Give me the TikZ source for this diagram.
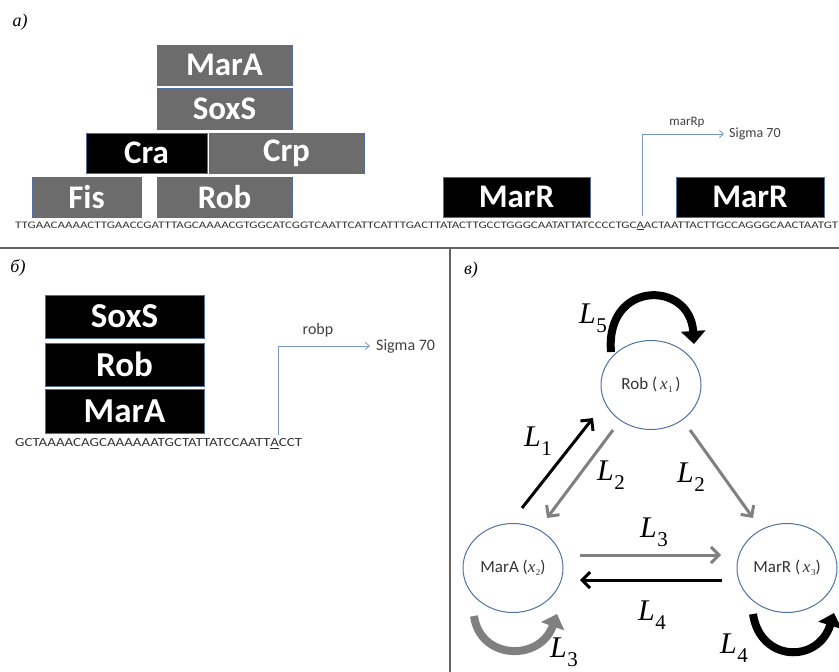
\documentclass[tikz,border=0pt]{standalone}
\usepackage{graphicx}
\usepackage{fontspec}
\setmainfont{Carlito}
\newfontfamily\serif{Liberation Serif}
\usetikzlibrary{arrows.meta,shapes.geometric}
\definecolor{boxgray}{RGB}{108,108,108}
\definecolor{boxedge}{RGB}{80,110,160}
\definecolor{arrgray}{RGB}{128,128,128}
\definecolor{circedge}{RGB}{79,113,163}
\definecolor{promo}{RGB}{120,150,200}
\definecolor{seqcol}{RGB}{50,50,50}
\definecolor{divcol}{RGB}{100,100,100}
\newcommand\Lab[1]{{\serif\itshape\fontsize{30}{30}\selectfont L}\kern0.5pt\raisebox{-9pt}{\serif\fontsize{21}{21}\selectfont #1}}
\newcommand\xsub[1]{{\serif\itshape x}\kern0.5pt\raisebox{-2.5pt}{\serif\fontsize{9}{9}\selectfont #1}}
\begin{document}
\begin{tikzpicture}[x=1pt,y=-1pt,
  gbox/.style={draw=boxedge, line width=0.8pt, fill=boxgray, text=white,
    font=\fontsize{33}{33}\selectfont\bfseries, inner sep=0pt, outer sep=0pt},
  kbox/.style={gbox, fill=black},
  bbox/.style={kbox, font=\fontsize{35}{35}\selectfont\bfseries, minimum width=159pt},
  promline/.style={draw=promo, line width=0.8pt, -{Straight Barb[length=4pt,width=7pt,line width=0.8pt]}},
  circ/.style={ellipse, draw=circedge, line width=1pt, minimum width=100pt, minimum height=89pt,
    inner sep=0pt, font=\fontsize{17}{17}\selectfont, text=black!80},
  garr/.style={draw=arrgray, line width=3pt, -{Straight Barb[length=8pt,width=16pt,line width=3pt]}},
  karr/.style={draw=black, line width=3pt, -{Straight Barb[length=8pt,width=16pt,line width=3pt]}},
  gloop/.style={draw=arrgray, line width=8pt, -{Triangle[length=13pt,width=24pt]}},
  kloop/.style={draw=black, line width=8pt, -{Triangle[length=13pt,width=24pt]}},
  lab/.style={inner sep=0pt, anchor=base west},
  panel/.style={inner sep=0pt, font=\serif\itshape\fontsize{18}{18}\selectfont},
  seq/.style={inner sep=0pt, anchor=west, text=seqcol}
]
\useasboundingbox (0,0) rectangle (839,672);
% dividers
\coordinate (dl) at (0,248);
\coordinate (dr) at (839,248);
\coordinate (vt) at (450,248);
\coordinate (vb) at (450,672);
\draw[divcol, line width=1.5pt] (dl) -- (dr);
\draw[divcol, line width=1.5pt] (vt) -- (vb);

% panel labels
\node[panel] (pa) at (20,22) {а)};
\node[panel] (pb) at (18,268) {б)};
\node[panel] (pc) at (471,270) {в)};

% ---- panel a
\node[gbox, minimum width=135pt, minimum height=40pt] (amara) at (224.5,65) {MarA};
\node[gbox, minimum width=135pt, minimum height=41pt] (asoxs) at (224.5,108.5) {SoxS};
\node[kbox, minimum width=121pt, minimum height=40pt] (acra) at (146.5,153) {Cra};
\node[gbox, minimum width=155pt, minimum height=40pt] (acrp) at (286.5,153) {Crp};
\node[gbox, minimum width=109pt, minimum height=40pt] (afis) at (86.5,197) {Fis};
\node[gbox, minimum width=135pt, minimum height=40pt] (arob) at (224.5,197) {Rob};
\node[kbox, minimum width=147pt, minimum height=40pt] (amarr1) at (516.5,197) {MarR};
\node[kbox, minimum width=148pt, minimum height=40pt] (amarr2) at (750,197) {MarR};

\node[seq] (aseq) at (15,226) {\resizebox{823pt}{6.5pt}{TTGAACAAAACTTGAACCGATTTAGCAAAACGTGGCATCGGTCAATTCATTCATTTGACTTATACTTGCCTGGGCAATATTATCCCCTGC\underline{A}ACTAATTACTTGCCAGGGCAACTAATGT}};

\coordinate (apst) at (642,216);
\node[inner sep=0pt, anchor=west, font=\fontsize{14}{14}\selectfont, text=black!75] (asig) at (729,134) {Sigma 70};
\node[inner sep=0pt, font=\fontsize{13}{13}\selectfont, text=black!75] (amarrp) at (687,122) {marRp};
\draw[promline] (apst) |- ([xshift=-5pt]asig.west);

% ---- panel b
\node[bbox, minimum height=43pt] (bsoxs) at (124.5,316.5) {SoxS};
\node[bbox, minimum height=43pt] (brob) at (124.5,364.5) {Rob};
\node[bbox, minimum height=44pt] (bmara) at (124.5,411) {MarA};

\node[seq] (bseq) at (15,444) {\resizebox{287pt}{8pt}{GCTAAAACAGCAAAAAATGCTATTATCCAATT\underline{A}CCT}};

\coordinate (bpst) at (278,435);
\node[inner sep=0pt, anchor=west, font=\fontsize{16}{16}\selectfont, text=black!75] (bsig) at (376,346) {Sigma 70};
\node[inner sep=0pt, font=\fontsize{16}{16}\selectfont, text=black!75] (brobp) at (318,330) {robp};
\draw[promline] (bpst) |- ([xshift=-6pt]bsig.west);

% ---- panel c
\node[circ] (rob) at (651,385) {Rob (\,\xsub{1}\,)};
\node[circ] (mara) at (513,568) {MarA (\xsub{2})};
\node[circ] (marr) at (787,568) {MarR (\,\xsub{3})};

\coordinate (l1s) at (522,508);
\coordinate (l1e) at (593,418);
\coordinate (l2as) at (613,430);
\coordinate (l2ae) at (547,518);
\coordinate (l2bs) at (690,430);
\coordinate (l2be) at (753,518);
\coordinate (l3s) at (580,555);
\coordinate (l3e) at (721,555);
\coordinate (l4s) at (722,580);
\coordinate (l4e) at (580,580);
\draw[karr] (l1s) -- (l1e);
\draw[garr] (l2as) -- (l2ae);
\draw[garr] (l2bs) -- (l2be);
\draw[garr] (l3s) -- (l3e);
\draw[karr] (l4s) -- (l4e);

% loops
\coordinate (l5s) at (611,352);
\coordinate (l5e) at (694,344);
\draw[kloop] (l5s) .. controls (605,280) and (690,280) .. (l5e);
\coordinate (l3ls) at (474,616);
\coordinate (l3le) at (557,614);
\draw[gloop] (l3ls) .. controls (480,660) and (540,662) .. (l3le);
\coordinate (l4ls) at (753,614);
\coordinate (l4le) at (834,613);
\draw[kloop] (l4ls) .. controls (760,662) and (818,664) .. (l4le);

% labels
\node[lab] (t5) at (579,323) {\Lab{5}};
\node[lab] (t1) at (524,446) {\Lab{1}};
\node[lab] (t2a) at (597,480) {\Lab{2}};
\node[lab] (t2b) at (677,482) {\Lab{2}};
\node[lab] (t3) at (640,537) {\Lab{3}};
\node[lab] (t4) at (638,620) {\Lab{4}};
\node[lab] (t3l) at (550,657) {\Lab{3}};
\node[lab] (t4l) at (720,653) {\Lab{4}};
\end{tikzpicture}
\end{document}
